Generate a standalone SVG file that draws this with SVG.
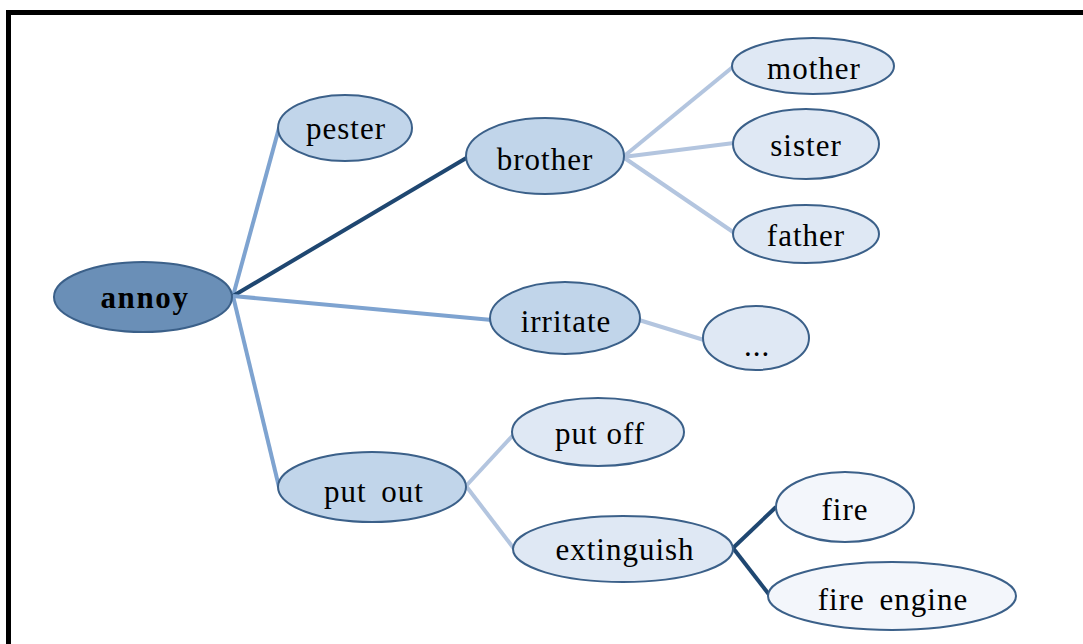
<svg xmlns="http://www.w3.org/2000/svg" width="1083" height="644" viewBox="0 0 1083 644">
  <style>
    .node { stroke: #3b6089; stroke-width: 2; }
    .root { fill: #6a8fb7; }
    .l1 { fill: #c1d5ea; }
    .l2 { fill: #dfe8f4; }
    .l3 { fill: #f3f6fb; }
    .label { font-family: "Liberation Serif", "Times New Roman", serif; font-size: 31px; fill: #000; text-anchor: middle; letter-spacing: 1px; }
    .bold { font-weight: bold; letter-spacing: 1.6px; }
    .wide { word-spacing: 6px; }
    .edge { fill: none; stroke-width: 4; stroke-linecap: butt; }
    .mid { stroke: #7ea3d0; }
    .pale { stroke: #b3c5df; }
    .dark { stroke: #1f4771; }
  </style>

  <rect width="1083" height="644" fill="#ffffff"/>
  <!-- outer frame, running off the right and bottom edges -->
  <rect x="8.5" y="12.5" width="1100" height="700" fill="none" stroke="#000" stroke-width="5"/>

  <g id="connectors">
    <line class="edge mid" x1="233" y1="296" x2="279" y2="128"/>
    <line class="edge dark" x1="233" y1="296" x2="468" y2="157"/>
    <line class="edge mid" x1="233" y1="296" x2="492" y2="320"/>
    <line class="edge mid" x1="233" y1="296" x2="279" y2="487"/>
    <line class="edge pale" x1="623" y1="157" x2="734" y2="66"/>
    <line class="edge pale" x1="623" y1="157" x2="734" y2="143"/>
    <line class="edge pale" x1="623" y1="157" x2="736" y2="234"/>
    <line class="edge pale" x1="639" y1="320" x2="704" y2="340"/>
    <line class="edge pale" x1="466" y1="486" x2="515" y2="433"/>
    <line class="edge pale" x1="466" y1="486" x2="515" y2="550"/>
    <line class="edge dark" x1="733" y1="548" x2="776" y2="507"/>
    <line class="edge dark" x1="733" y1="548" x2="771" y2="597"/>
  </g>

  <g id="annoy">
    <ellipse class="node root" cx="143" cy="297" rx="89" ry="35"/>
    <text class="label bold" x="145" y="308">annoy</text>
  </g>
  <g id="pester">
    <ellipse class="node l1" cx="345" cy="128" rx="67" ry="33"/>
    <text class="label" x="346" y="139">pester</text>
  </g>
  <g id="brother">
    <ellipse class="node l1" cx="545" cy="156" rx="79" ry="38"/>
    <text class="label" x="545" y="170">brother</text>
  </g>
  <g id="irritate">
    <ellipse class="node l1" cx="565" cy="318" rx="75" ry="36"/>
    <text class="label" x="566" y="332">irritate</text>
  </g>
  <g id="put-out">
    <ellipse class="node l1" cx="372" cy="487" rx="94" ry="35"/>
    <text class="label wide" x="374" y="502">put out</text>
  </g>
  <g id="mother">
    <ellipse class="node l2" cx="813" cy="66" rx="81" ry="28"/>
    <text class="label" x="814" y="79">mother</text>
  </g>
  <g id="sister">
    <ellipse class="node l2" cx="806" cy="144" rx="73" ry="35"/>
    <text class="label" x="806" y="156">sister</text>
  </g>
  <g id="father">
    <ellipse class="node l2" cx="806" cy="234" rx="73" ry="29"/>
    <text class="label" x="806" y="246">father</text>
  </g>
  <g id="ellipsis">
    <ellipse class="node l2" cx="756" cy="338" rx="53" ry="32"/>
    <text class="label" x="757" y="356">...</text>
  </g>
  <g id="put-off">
    <ellipse class="node l2" cx="598" cy="432" rx="86" ry="34"/>
    <text class="label" x="600" y="444">put off</text>
  </g>
  <g id="extinguish">
    <ellipse class="node l2" cx="623" cy="549" rx="110" ry="33"/>
    <text class="label" x="625" y="560">extinguish</text>
  </g>
  <g id="fire">
    <ellipse class="node l3" cx="845" cy="507" rx="69" ry="35"/>
    <text class="label" x="845" y="520">fire</text>
  </g>
  <g id="fire-engine">
    <ellipse class="node l3" cx="892" cy="596" rx="124" ry="34"/>
    <text class="label wide" x="893" y="610">fire engine</text>
  </g>
</svg>
